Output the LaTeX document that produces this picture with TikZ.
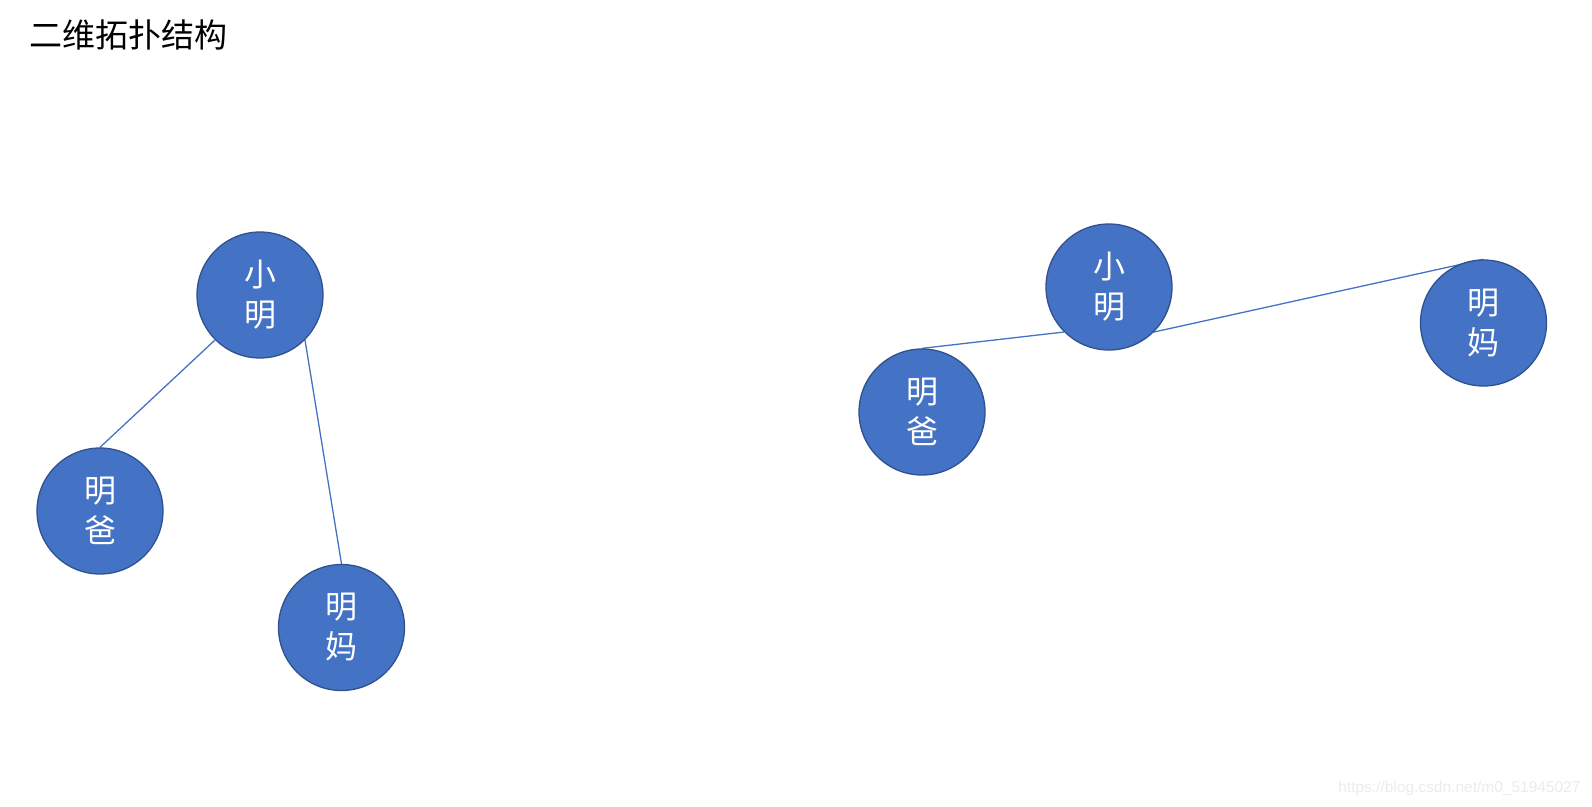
\documentclass[tikz,border=0pt]{standalone}
\usepackage{fontspec}
\newfontfamily\cjk{Noto Sans CJK SC}
\newfontfamily\urlfont{Liberation Sans}
\usetikzlibrary{backgrounds}
\definecolor{nodeblue}{HTML}{4472C4}
\definecolor{nodeedge}{HTML}{2F528F}

\begin{document}
\begin{tikzpicture}[
    x=1pt, y=-1pt,
    person/.style={
		circle,
		draw=nodeedge,
		line width=1.3pt,
		fill=nodeblue,
		text=white,
		align=center,
		inner sep=0pt,
		minimum size=126pt,
		font=\cjk\fontsize{32}{40}\selectfont
	},
	tie/.style={
		draw=nodeblue,
		line width=1.3pt
	}
  ]
 \useasboundingbox (0,0) rectangle (1592,806);

 \node [anchor=west, font=\cjk\fontsize{33}{40}\selectfont] (title) at (26,35) {二维拓扑结构};

% // left tree
 \node [person] (kid1) at (260,295) {小\\明};
 \node [person] (dad1) at (100,511) {明\\爸};
 \node [person] (mom1) at (341.5,627.5) {明\\妈};

% // right tree
 \node [person] (kid2) at (1109,287) {小\\明};
 \node [person] (dad2) at (922,412) {明\\爸};
 \node [person] (mom2) at (1483.5,323) {明\\妈};

 \begin{scope}[on background layer]
 \draw [tie] (kid1.south west) -- (dad1.north);
 \draw [tie] (kid1.south east) -- (mom1.north);
 \draw [tie] (kid2.south west) -- (dad2.north);
 \draw [tie] (kid2.south east) -- (mom2.north);
 \end{scope}

 \node [anchor=east, text=black!8, font=\urlfont\fontsize{15.5}{18}\selectfont] (mark) at (1584,788) {https://blog.csdn.net/m0\_51945027};
\end{tikzpicture}
\end{document}
